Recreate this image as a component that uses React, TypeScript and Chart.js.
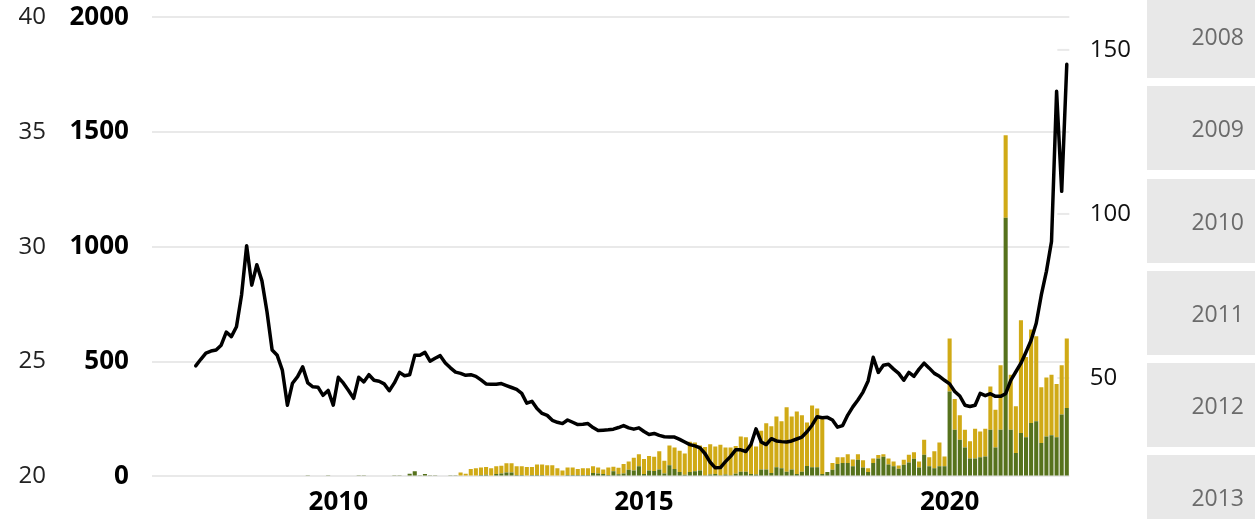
import React, { useEffect, useRef } from 'react';
import { Chart, registerables } from 'chart.js';

Chart.register(...registerables);

// ---- data (monthly, Jan 2007 .. Dec 2021) ----
const YEARS = [2007, 2008, 2009, 2010, 2011, 2012, 2013, 2014, 2015, 2016, 2017, 2018, 2019, 2020, 2021];
const MONTHS = ['01', '02', '03', '04', '05', '06', '07', '08', '09', '10', '11', '12'];
const CATEGORIES: string[] = [];
YEARS.forEach((y) => MONTHS.forEach((m) => CATEGORIES.push(`${y}-${m}`)));

const X_TICK_LABELS = ['2010', '2015', '2020'];
const LEFT_OUTER_TICKS = [20, 25, 30, 35, 40];
const LEFT_BAR_TICKS = [0, 500, 1000, 1500, 2000];
const RIGHT_TICKS = [50, 100, 150];
const SIDE_LIST = ['2008', '2009', '2010', '2011', '2012', '2013'];

const N = null;
// green (lower) bar segment
const GREEN = [
  0, 0, 0, 0, 0, 0, 0, 0, 0, 0, 0, 0,
  0, 0, 0, 0, 0, 0, 0, 0, 0, 0, 0, 0,
  0, 0, 0, 0, 0, 0, 5, 0, 0, 0, 5, 0,
  0, 0, 0, 0, 5, 5, 0, 0, 0, 0, 0, 5,
  5, 0, 12, 22, 5, 10, 5, 5, 0, 0, 5, 5,
  0, 0, 0, 0, 6, 7, 0, 10, 13, 17, 17, 6,
  6, 0, 6, 6, 6, 0, 0, 0, 0, 6, 6, 6,
  6, 6, 15, 13, 10, 6, 22, 9, 13, 29, 26, 44,
  10, 26, 23, 30, 13, 49, 32, 19, 7, 19, 22, 26,
  5, 8, 10, 5, 8, 5, 12, 20, 20, 10, 8, 30,
  30, 15, 40, 35, 20, 30, 10, 20, 45, 40, 40, 10,
  19, 29, 54, 58, 58, 44, 73, 39, 19, 58, 78, 86,
  52, 44, 33, 51, 61, 77, 39, 94, 44, 36, 44, 44,
  370, 203, 160, 126, 78, 78, 83, 87, 203, 126, 203, 1126,
  203, 102, 189, 170, 232, 240, 145, 174, 179, 170, 269, 298,
];
// yellow (upper) bar segment
const YELLOW = [
  0, 0, 0, 0, 0, 0, 0, 0, 0, 0, 0, 0,
  0, 0, 0, 0, 0, 0, 0, 0, 0, 0, 0, 0,
  0, 0, 0, 0, 0, 0, 0, 0, 0, 0, 0, 0,
  0, 0, 0, 0, 0, 0, 0, 0, 0, 0, 0, 0,
  0, 0, 0, 0, 0, 0, 0, 0, 0, 0, 0, 0,
  17, 12, 32, 36, 33, 34, 35, 34, 33, 40, 40, 38,
  38, 41, 35, 46, 46, 49, 49, 35, 26, 33, 33, 26,
  29, 29, 29, 26, 20, 33, 20, 29, 41, 36, 55, 52,
  66, 63, 63, 79, 55, 86, 94, 93, 93, 132, 126, 109,
  123, 132, 120, 133, 118, 121, 120, 154, 150, 130, 122, 169,
  201, 203, 221, 205, 281, 231, 273, 246, 190, 269, 256, 247,
  0, 29, 29, 25, 38, 30, 23, 31, 16, 20, 15, 10,
  26, 21, 15, 22, 33, 28, 26, 66, 39, 73, 104, 43,
  230, 134, 106, 77, 75, 130, 113, 121, 189, 164, 281, 360,
  240, 203, 491, 350, 408, 370, 243, 257, 264, 232, 215, 302,
];
// black line (right axis)
const LINE = [
  N, N, N, N, N, N, N, N, 53.7, 55.7, 57.6, 58.2,
  58.5, 60.0, 64.0, 62.6, 65.6, 75.3, 90.3, 78.3, 84.5, 79.6, 70.1, 58.5,
  56.9, 52.4, 41.7, 48.4, 50.4, 53.4, 48.5, 47.3, 47.2, 44.7, 46.2, 41.7,
  50.2, 48.4, 46.2, 43.8, 50.2, 48.8, 51.0, 49.3, 49.0, 48.2, 46.1, 48.5,
  51.7, 50.7, 51.0, 56.9, 56.9, 57.8, 55.1, 56.0, 56.8, 54.6, 53.1, 51.8,
  51.4, 50.8, 51.0, 50.5, 49.4, 48.2, 48.1, 48.1, 48.3, 47.7, 47.1, 46.5,
  45.3, 42.3, 42.9, 40.7, 39.2, 38.6, 37.1, 36.5, 36.1, 37.2, 36.5, 35.8,
  35.9, 36.1, 34.9, 34.0, 34.1, 34.2, 34.4, 34.9, 35.5, 34.8, 34.4, 34.8,
  33.7, 32.8, 33.1, 32.5, 32.1, 32.0, 32.0, 31.3, 30.5, 29.7, 29.3, 28.7,
  26.9, 24.3, 22.6, 22.7, 24.5, 26.1, 28.1, 28.1, 27.6, 29.7, 34.5, 30.5,
  29.7, 31.5, 30.8, 30.6, 30.5, 30.8, 31.4, 32.0, 33.6, 35.6, 38.2, 37.9,
  38.0, 37.2, 35.0, 35.5, 38.7, 41.2, 43.3, 45.7, 49.1, 56.3, 51.7, 53.9,
  54.2, 52.7, 51.4, 49.3, 51.7, 50.5, 52.7, 54.5, 53.0, 51.4, 50.5, 49.3,
  48.2, 45.9, 44.5, 41.7, 41.3, 41.7, 45.3, 44.6, 45.2, 44.4, 44.4, 45.2,
  49.3, 51.9, 54.5, 57.9, 61.5, 66.7, 75.3, 82.5, 91.6, 137.4, 106.9, 145.6,
];

const GREEN_COLOR = '#56721c';
const YELLOW_COLOR = '#d0aa16';
const GRID_COLOR = '#e9e9e9';
const FONT = "'Open Sans', 'Noto Sans', sans-serif";

const rightTickMarks = {
  id: 'rightTickMarks',
  beforeDatasetsDraw(chart: any) {
    const s = chart.scales.y2;
    const { right } = chart.chartArea;
    const ctx = chart.ctx;
    ctx.save();
    ctx.strokeStyle = GRID_COLOR;
    ctx.lineWidth = 2;
    s.ticks.forEach((t: any) => {
      const y = s.getPixelForValue(t.value);
      ctx.beginPath();
      ctx.moveTo(right - 12, y);
      ctx.lineTo(right, y);
      ctx.stroke();
    });
    ctx.restore();
  },
};

const plain = (v: any) => String(v);

export default function App() {
  const ref = useRef<HTMLCanvasElement | null>(null);

  useEffect(() => {
    if (!ref.current) return;
    const chart = new Chart(ref.current, {
      type: 'bar',
      data: {
        labels: CATEGORIES,
        datasets: [
          {
            type: 'line',
            data: LINE,
            yAxisID: 'y2',
            borderColor: '#000',
            borderWidth: 3.5,
            pointRadius: 0,
            tension: 0,
            borderJoinStyle: 'round',
            borderCapStyle: 'round',
            order: 0,
          } as any,
          {
            type: 'bar',
            data: GREEN,
            yAxisID: 'y',
            backgroundColor: GREEN_COLOR,
            categoryPercentage: 1,
            barPercentage: 0.8,
            stack: 's',
            order: 1,
          },
          {
            type: 'bar',
            data: YELLOW,
            yAxisID: 'y',
            backgroundColor: YELLOW_COLOR,
            categoryPercentage: 1,
            barPercentage: 0.8,
            stack: 's',
            order: 1,
          },
        ],
      },
      plugins: [rightTickMarks],
      options: {
        responsive: false,
        animation: false,
        layout: { padding: { left: 18.5, right: 15.5, top: 0, bottom: 0 } },
        plugins: { legend: { display: false }, tooltip: { enabled: false } },
        scales: {
          x: {
            stacked: true,
            grid: { display: false, drawTicks: false },
            border: { display: false },
            ticks: {
              autoSkip: false,
              maxRotation: 0,
              padding: 10.7,
              color: '#000',
              font: { family: FONT, size: 26, weight: 'bold' },
              callback: (_v: any, i: number) => {
                const c = CATEGORIES[i];
                if (!c) return '';
                const [yy, mm] = c.split('-');
                return mm === '01' && X_TICK_LABELS.includes(yy) ? yy : '';
              },
            },
          },
          y: {
            position: 'left',
            stacked: true,
            weight: 0,
            min: 0,
            max: 2000,
            afterBuildTicks: (axis: any) => {
              axis.ticks = LEFT_BAR_TICKS.map((v) => ({ value: v }));
            },
            grid: { color: GRID_COLOR, lineWidth: 2, drawTicks: false },
            border: { display: false },
            ticks: {
              padding: 23.5,
              color: '#000',
              callback: plain,
              font: { family: FONT, size: 26, weight: 'bold' },
            },
          },
          yOuter: {
            position: 'left',
            weight: 1,
            min: 20,
            max: 40,
            afterBuildTicks: (axis: any) => {
              axis.ticks = LEFT_OUTER_TICKS.map((v) => ({ value: v }));
            },
            grid: { display: false, drawTicks: false },
            border: { display: false },
            ticks: {
              padding: 0,
              color: '#222',
              callback: plain,
              font: { family: FONT, size: 24 },
            },
          },
          y2: {
            position: 'right',
            min: 20,
            max: 160,
            afterBuildTicks: (axis: any) => {
              axis.ticks = RIGHT_TICKS.map((v) => ({ value: v }));
            },
            grid: { display: false, drawTicks: false },
            border: { display: false },
            ticks: {
              padding: 20.5,
              color: '#111',
              callback: plain,
              font: { family: FONT, size: 24 },
            },
          },
        },
      } as any,
    });
    return () => chart.destroy();
  }, []);

  return (
    <div
      style={{
        position: 'fixed',
        left: 0,
        top: 0,
        width: 1255,
        height: 519,
        overflow: 'hidden',
        background: '#fff',
      }}
    >
      <canvas ref={ref} width={1167} height={551} style={{ position: 'absolute', left: 0, top: -22.4 }} />
      <div style={{ position: 'absolute', left: 1147, top: -6, width: 108 }}>
        {SIDE_LIST.map((y) => (
          <div
            key={y}
            style={{
              height: 84,
              marginBottom: 8.3,
              background: '#e8e8e8',
              display: 'flex',
              alignItems: 'center',
              justifyContent: 'flex-end',
              paddingRight: 11,
              paddingTop: 0,
              boxSizing: 'border-box',
              fontFamily: FONT,
              fontSize: 23,
              color: '#6b6b6b',
            }}
          >
            {y}
          </div>
        ))}
      </div>
    </div>
  );
}
